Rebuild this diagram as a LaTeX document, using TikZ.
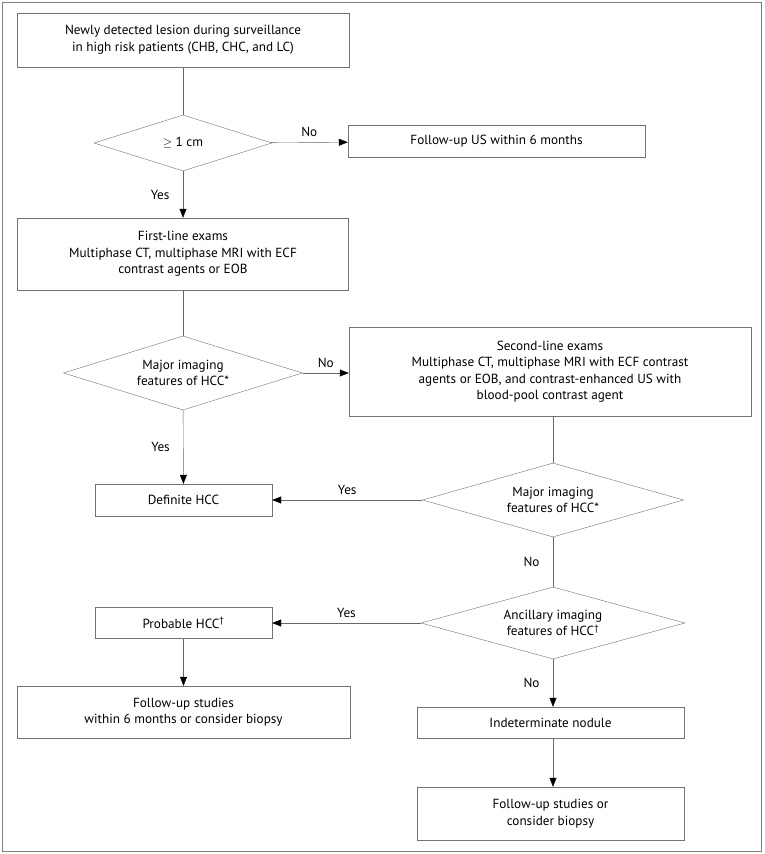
\documentclass[tikz,border=0pt]{standalone}
\usepackage{fontspec}
\setmainfont{PT Sans}
\usetikzlibrary{shapes.geometric,arrows.meta}

\begin{document}
\begin{tikzpicture}[x=1pt,y=-1pt]
		\tikzstyle{every node}=[font=\fontsize{13.2}{16.5}\selectfont,text=black]
		\tikzstyle{box}=[draw=black!55,align=center,inner sep=0pt]
		\tikzstyle{decision}=[draw=black!55,diamond,aspect=3,align=center,inner sep=0pt]
		\tikzstyle{line}=[draw=black!60]
		\tikzstyle{arrow}=[line,-{Triangle[length=9pt,width=7pt,color=black]}]

		\useasboundingbox (0,0) rectangle (764,854);
		\draw[black!50] (2.5,2.5) rectangle (761,851);

		% left column
		\node[box,minimum width=332,minimum height=54] (detect) at (183,40)
			{Newly detected lesion during surveillance\\in high risk patients (CHB, CHC, and LC)};
		\node[decision,minimum width=178,minimum height=56] (size) at (183,143) {$\geq$ 1 cm};
		\node[box,minimum width=297,minimum height=32] (usfollow) at (496.5,141.5) {Follow-up US within 6 months};
		\node[box,minimum width=331,minimum height=72] (first) at (183,254)
			{First-line exams\\Multiphase CT, multiphase MRI with ECF\\contrast agents or EOB};
		\node[decision,minimum width=239,minimum height=74] (major1) at (183,373)
			{Major imaging\\features of HCC*};
		\node[box,minimum width=177,minimum height=32] (definite) at (183.5,500) {Definite HCC};
		\node[box,minimum width=177,minimum height=31] (probable) at (183.5,623) {Probable HCC\textsuperscript{\textdagger}};
		\node[box,minimum width=333,minimum height=52] (studies1) at (183.5,712)
			{Follow-up studies\\within 6 months or consider biopsy};

		% right column
		\node[box,minimum width=402,minimum height=89] (second) at (550,371.5)
			{Second-line exams\\Multiphase CT, multiphase MRI with ECF contrast\\agents or EOB, and contrast-enhanced US with\\blood-pool contrast agent};
		\node[decision,minimum width=261,minimum height=74] (major2) at (553,500)
			{Major imaging\\features of HCC*};
		\node[decision,minimum width=264,minimum height=72] (ancillary) at (553,623)
			{Ancillary imaging\\features of HCC\textsuperscript{\textdagger}};
		\node[box,minimum width=267,minimum height=31] (indet) at (550.5,722.5) {Indeterminate nodule};
		\node[box,minimum width=267,minimum height=53] (studies2) at (550.5,813.5)
			{Follow-up studies or\\consider biopsy};

		% connectors
		\draw[line] (detect) -- (size);
		\draw[arrow] (size) -- node[above=2pt] {No} (usfollow);
		\draw[arrow] (size) -- node[left=10pt] {Yes} (first);
		\draw[line] (first) -- (major1);
		\draw[arrow] (major1.east) -- node[above=2pt] {No} (second.west |- major1.east);
		\draw[arrow] (major1) -- node[left=10pt] {Yes} (definite);
		\draw[line] (second.south -| major2.north) -- (major2.north);
		\draw[arrow] (major2) -- node[above=2pt] {Yes} (definite);
		\draw[line] (major2) -- node[left=10pt] {No} (ancillary);
		\draw[arrow] (ancillary) -- node[above=2pt] {Yes} (probable);
		\draw[arrow] (probable) -- (studies1);
		\draw[arrow] (ancillary.south) -- node[left=10pt] {No} (indet.north -| ancillary.south);
		\draw[arrow] (indet.south -| ancillary.south) -- (studies2.north -| ancillary.south);
	\end{tikzpicture}
\end{document}
